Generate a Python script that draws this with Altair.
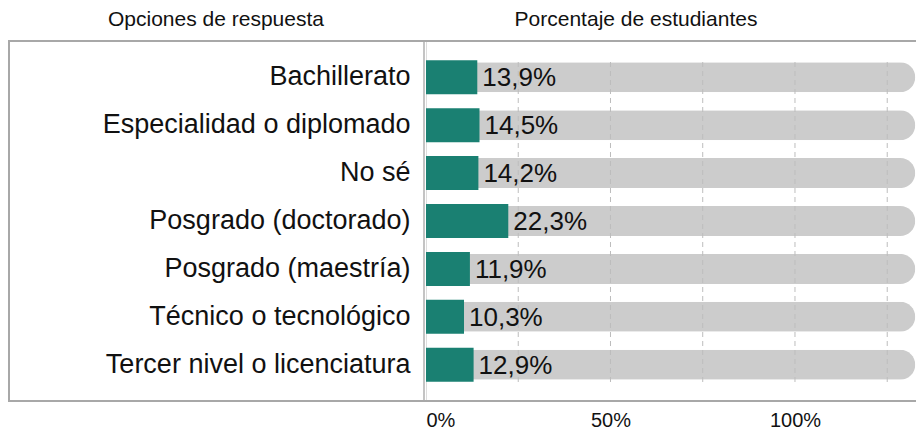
import altair as alt
import pandas as pd

categorias = [
    "Bachillerato",
    "Especialidad o diplomado",
    "No sé",
    "Posgrado (doctorado)",
    "Posgrado (maestría)",
    "Técnico o tecnológico",
    "Tercer nivel o licenciatura",
]
porcentajes = [13.9, 14.5, 14.2, 22.3, 11.9, 10.3, 12.9]
maximo_pista = 132.6
marcas_rejilla = [25, 50, 75, 100, 125]
marcas_eje = [0, 50, 100]
titulo_izq = "Opciones de respuesta"
titulo_der = "Porcentaje de estudiantes"

df = pd.DataFrame({"cat": categorias, "pct": porcentajes})
df["pista"] = maximo_pista
df["etq"] = df["pct"].map(lambda v: f"{v:.1f}%".replace(".", ","))
rej = pd.DataFrame({"g": marcas_rejilla})

FONT = "Liberation Sans"
W, H = 490, 360
xscale = alt.Scale(domain=[0, 132.8], nice=False, zero=True)
yscale = alt.Scale(domain=categorias, paddingInner=0.29, paddingOuter=0.4)
xaxis = alt.Axis(values=marcas_eje, labelExpr="datum.value + '%'", domain=False,
                 ticks=False, grid=False, labelFontSize=20, labelColor="#111111",
                 labelPadding=9, title=None, labelFont=FONT)
yaxis = alt.Axis(domain=False, ticks=False, grid=False, labelFontSize=27,
                 labelColor="#111111", labelPadding=16, labelLimit=0, title=None,
                 labelFont=FONT)

base = alt.Chart(df)

pista = base.mark_bar(color="#cccccc", height=30, cornerRadius=15).encode(
    x=alt.X("pista:Q", scale=xscale, axis=xaxis),
    y=alt.Y("cat:N", scale=yscale, axis=yaxis, sort=categorias),
)

rejilla = alt.Chart(rej).mark_rule(color="#bdbdbd", strokeDash=[5, 4], strokeWidth=1).encode(
    x=alt.X("g:Q", scale=xscale, axis=xaxis),
    y=alt.value(21),
    y2=alt.value(342),
)

barras = base.mark_bar(color="#1a8072", height=34).encode(
    x=alt.X("pct:Q", scale=xscale, axis=xaxis),
    y=alt.Y("cat:N", scale=yscale, axis=yaxis, sort=categorias),
)

etiquetas = base.mark_text(align="left", baseline="middle", dx=5, dy=1, fontSize=26,
                           font=FONT, color="#111111").encode(
    x=alt.X("pct:Q", scale=xscale, axis=xaxis),
    y=alt.Y("cat:N", scale=yscale, axis=yaxis, sort=categorias),
    text="etq:N",
)

marco_sup = alt.Chart(df).mark_rule(color="#a8a8a8", strokeWidth=2).encode(
    x=alt.value(-418), x2=alt.value(W), y=alt.value(0))
marco_inf = alt.Chart(df).mark_rule(color="#a8a8a8", strokeWidth=2).encode(
    x=alt.value(-418), x2=alt.value(W), y=alt.value(H))
marco_izq = alt.Chart(df).mark_rule(color="#a8a8a8", strokeWidth=2).encode(
    x=alt.value(-417.5), y=alt.value(0), y2=alt.value(H))
eje_v = alt.Chart(df).mark_rule(color="#c4c4c4", strokeWidth=2).encode(
    x=alt.value(-2), y=alt.value(0), y2=alt.value(H))

tit = pd.DataFrame({"t": [titulo_izq]})
tit2 = pd.DataFrame({"t": [titulo_der]})
cab_izq = alt.Chart(tit).mark_text(fontSize=21, font=FONT, color="#111111",
                                   baseline="middle", align="center").encode(
    text="t:N", x=alt.value(-210), y=alt.value(-21))
cab_der = alt.Chart(tit2).mark_text(fontSize=21, font=FONT, color="#111111",
                                    baseline="middle", align="center").encode(
    text="t:N", x=alt.value(210), y=alt.value(-21))

chart = alt.layer(
    pista, rejilla, barras, etiquetas, eje_v, marco_sup, marco_inf, marco_izq, cab_izq, cab_der
).properties(
    width=W, height=H,
    autosize=alt.AutoSizeParams(type="none"),
    padding={"left": 418, "top": 33, "right": 0, "bottom": 32},
).configure_view(stroke=None).configure(background="white")

chart.save("out.html", embed_options={"renderer": "svg", "actions": False})
